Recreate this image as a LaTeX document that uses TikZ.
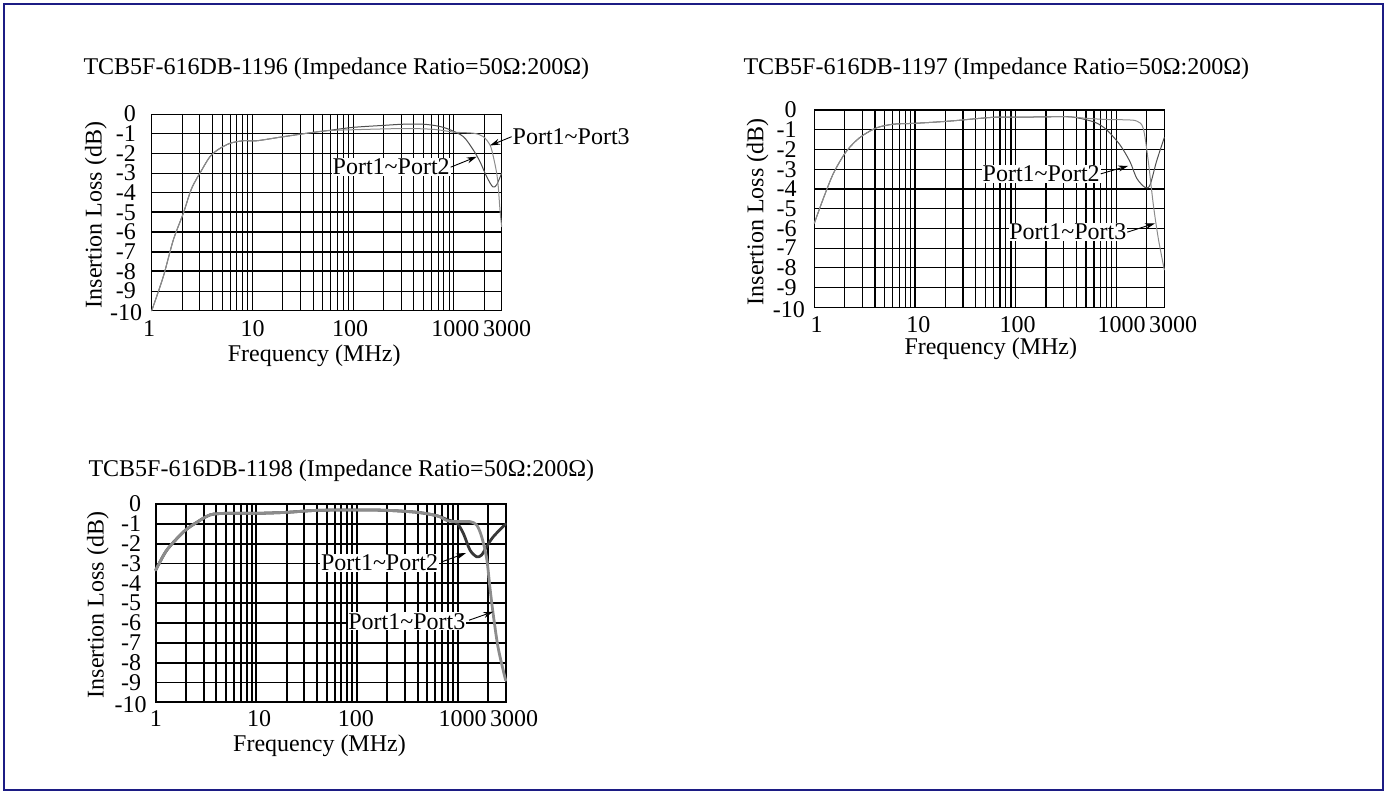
\documentclass[tikz,border=0pt]{standalone}
\usepackage{fontspec}
\setmainfont{Liberation Serif}
\usetikzlibrary{arrows.meta}
\definecolor{framec}{RGB}{28,28,132}
\definecolor{dkA}{RGB}{80,80,80}
\definecolor{ltA}{RGB}{140,140,140}
\definecolor{dkC}{RGB}{55,55,55}
\definecolor{ltC}{RGB}{140,140,140}
\newcommand{\IRgrid}[1]{%
  \foreach \kk in {0,1,2}{\foreach \mm in {2,...,9}{\draw[line width=#1] ({\kk+ln(\mm)/ln(10)},0) -- ({\kk+ln(\mm)/ln(10)},-10);}}%
  \foreach \gx in {1,2,3,3.30103}{\draw[line width=#1] (\gx,0) -- (\gx,-10);}%
  \foreach \dd in {1,...,9}{\draw[line width=#1] (0,-\dd) -- (3.4771,-\dd);}%
  \draw[line width=#1] (0,0) rectangle (3.4771,-10);%
}
\newcommand{\IRylabels}[3]{%
  \foreach \dd in {0,...,9}{\node[ylab] (#1\dd) at ([xshift=-#2]0,-\dd) {\pgfmathparse{int(-\dd)}\pgfmathresult};}%
  \node[ylab] (#1x) at ([xshift=-#3,yshift=-2pt]0,-10) {-10};%
}
\tikzset{
  ttl/.style={anchor=base west, inner sep=0pt},
  ylab/.style={anchor=east, inner sep=0pt},
  xlab/.style={anchor=north, inner sep=0pt},
  axl/.style={anchor=base, inner sep=0pt},
  portlab/.style={anchor=base west, fill=white, inner sep=0.8pt},
  arr/.style={-{Stealth[length=10pt,width=6pt]}, line width=0.9pt},
  crv/.style={line cap=round, line join=round}
}
\begin{document}
\begin{tikzpicture}[x=1pt,y=-1pt,font=\fontsize{24}{24}\selectfont]
\useasboundingbox (0,0) rectangle (1387,794);
\draw[framec, line width=2pt] (4,4) rectangle (1383,790);

% titles
\node[ttl] (t1) at (83.3,75) {TCB5F-616DB-1196 (Impedance Ratio=50Ω:200Ω)};
\node[ttl] (t2) at (743.3,75) {TCB5F-616DB-1197 (Impedance Ratio=50Ω:200Ω)};
\node[ttl] (t3) at (88.3,476) {TCB5F-616DB-1198 (Impedance Ratio=50Ω:200Ω)};

% ---------------- plot 1 ----------------
\begin{scope}[shift={(151.7pt,-114pt)}, x=100.66pt, y=19.67pt]
  \IRgrid{0.9pt}
  \foreach \dd in {5,6,7,8}{\draw[line width=1.8pt] (0,-\dd) -- (3.4771,-\dd);}
  \draw[crv, dkA, line width=1pt] plot[smooth] coordinates {(0,-10) (0.115,-8.27) (0.215,-6.4) (0.314,-5.05) (0.397,-3.78) (0.497,-2.85) (0.579,-2.17) (0.662,-1.8) (0.778,-1.49) (0.91,-1.36) (1.043,-1.36) (1.275,-1.18) (1.54,-0.98) (1.738,-0.85) (2.0,-0.68) (2.3,-0.58) (2.5,-0.52) (2.7,-0.52) (2.85,-0.62) (2.963,-0.8) (3.096,-1.15) (3.195,-1.83) (3.261,-2.42) (3.328,-3.19) (3.388,-3.7) (3.427,-3.6) (3.477,-3.0)};
  \draw[crv, ltA, line width=1pt] plot[smooth] coordinates {(0,-10) (0.115,-8.27) (0.215,-6.4) (0.314,-5.05) (0.397,-3.78) (0.497,-2.85) (0.579,-2.17) (0.662,-1.8) (0.778,-1.49) (0.91,-1.36) (1.043,-1.36) (1.275,-1.18) (1.54,-0.98) (1.738,-0.85) (2.0,-0.8) (2.5,-0.74) (2.8,-0.78) (3.0,-0.92) (3.2,-0.98) (3.294,-1.15) (3.361,-1.58) (3.394,-2.17) (3.427,-3.0) (3.443,-3.7) (3.46,-4.88) (3.477,-5.73)};
  \IRylabels{ya}{15.7pt}{9.4pt}
\end{scope}
\node[xlab] (xa1) at (149,320) {1};
\node[xlab] (xa2) at (252.5,320) {10};
\node[xlab] (xa3) at (350,320) {100};
\node[xlab] (xa4) at (455.3,320) {1000};
\node[xlab] (xa5) at (507,320) {3000};
\node[axl] (fa) at (314.2,362) {Frequency (MHz)};
\node[axl, rotate=90] (ia) at (101.7,215) {Insertion Loss (dB)};
\node[portlab] (pa2) at (331.7,175) {Port1\textasciitilde Port2};
\node[portlab] (pa3) at (511.7,144.5) {Port1\textasciitilde Port3};
\coordinate (ta2) at (476.7,156.7);
\coordinate (ta3) at (490,145.5);
\draw[arr] (pa2.east) -- (ta2);
\draw[arr] (pa3.west) -- (ta3);

% ---------------- plot 2 ----------------
\begin{scope}[shift={(814.3pt,-110pt)}, x=100.66pt, y=19.73pt]
  \IRgrid{1.2pt}
  \draw[crv, dkA, line width=1pt] plot[smooth] coordinates {(0,-5.74) (0.09,-4.48) (0.19,-3.21) (0.305,-2.19) (0.404,-1.61) (0.487,-1.27) (0.62,-0.90) (0.785,-0.72) (1.017,-0.67) (1.35,-0.56) (1.78,-0.37) (2.1,-0.36) (2.4,-0.34) (2.55,-0.35) (2.672,-0.46) (2.8,-0.65) (2.905,-1.01) (3.037,-1.77) (3.136,-2.62) (3.203,-3.46) (3.285,-3.92) (3.335,-3.8) (3.40,-2.6) (3.477,-1.4)};
  \draw[crv, ltA, line width=1pt] plot[smooth] coordinates {(0,-5.74) (0.09,-4.48) (0.19,-3.21) (0.305,-2.19) (0.404,-1.61) (0.487,-1.27) (0.62,-0.90) (0.785,-0.72) (1.017,-0.67) (1.35,-0.56) (1.78,-0.37) (2.1,-0.36) (2.4,-0.34) (2.55,-0.35) (2.7,-0.42) (2.9,-0.48) (3.1,-0.5) (3.203,-0.56) (3.268,-0.93) (3.318,-2.6) (3.368,-4.8) (3.417,-6.5) (3.477,-8.1)};
  \IRylabels{yb}{17.6pt}{9.3pt}
\end{scope}
\node[xlab] (xb1) at (816.7,316.7) {1};
\node[xlab] (xb2) at (918.3,316.7) {10};
\node[xlab] (xb3) at (1017.5,316.7) {100};
\node[xlab] (xb4) at (1121.7,316.7) {1000};
\node[xlab] (xb5) at (1173,316.7) {3000};
\node[axl] (fb) at (990.8,355) {Frequency (MHz)};
\node[axl, rotate=90] (ib) at (763.3,211.7) {Insertion Loss (dB)};
\node[portlab] (pb2) at (981.7,181.7) {Port1\textasciitilde Port2};
\node[portlab] (pb3) at (1008.3,240) {Port1\textasciitilde Port3};
\coordinate (tb2) at (1128.3,165.8);
\coordinate (tb3) at (1155,223.3);
\draw[arr] (pb2.east) -- (tb2);
\draw[arr] (pb3.east) -- (tb3);

% ---------------- plot 3 ----------------
\begin{scope}[shift={(155.7pt,-504pt)}, x=100.66pt, y=19.83pt]
  \IRgrid{1.9pt}
  \draw[crv, dkC, line width=2.8pt] plot[smooth] coordinates {(0,-3.33) (0.1,-2.4) (0.2,-1.8) (0.3,-1.3) (0.4,-0.95) (0.54,-0.55) (0.7,-0.47) (1.0,-0.47) (1.3,-0.42) (1.6,-0.32) (2.0,-0.3) (2.3,-0.32) (2.6,-0.42) (2.8,-0.6) (2.9,-0.8) (2.99,-0.95) (3.056,-1.48) (3.122,-2.32) (3.189,-2.66) (3.238,-2.57) (3.288,-2.15) (3.354,-1.65) (3.477,-1.0)};
  \draw[crv, ltC, line width=2.8pt] plot[smooth] coordinates {(0,-3.33) (0.1,-2.4) (0.2,-1.8) (0.3,-1.3) (0.4,-0.95) (0.54,-0.55) (0.7,-0.47) (1.0,-0.47) (1.3,-0.42) (1.6,-0.32) (2.0,-0.3) (2.3,-0.32) (2.6,-0.42) (2.8,-0.6) (2.9,-0.85) (3.0,-0.88) (3.122,-0.89) (3.189,-1.06) (3.238,-1.65) (3.288,-2.74) (3.321,-4.25) (3.354,-5.6) (3.403,-7.28) (3.477,-8.9)};
  \IRylabels{yc}{14.5pt}{9pt}
\end{scope}
\node[xlab] (xc1) at (155.8,710) {1};
\node[xlab] (xc2) at (259.2,710) {10};
\node[xlab] (xc3) at (355.8,710) {100};
\node[xlab] (xc4) at (462.5,710) {1000};
\node[xlab] (xc5) at (514,710) {3000};
\node[axl] (fc) at (319.5,751.7) {Frequency (MHz)};
\node[axl, rotate=90] (ic) at (103.5,605) {Insertion Loss (dB)};
\node[portlab] (pc2) at (320,570.7) {Port1\textasciitilde Port2};
\node[portlab] (pc3) at (347.3,629) {Port1\textasciitilde Port3};
\coordinate (tc2) at (466,553);
\coordinate (tc3) at (493.3,611.7);
\draw[arr, shorten <=3pt] (pc2.east) -- (tc2);
\draw[arr, shorten <=3pt] (pc3.east) -- (tc3);
\end{tikzpicture}
\end{document}
